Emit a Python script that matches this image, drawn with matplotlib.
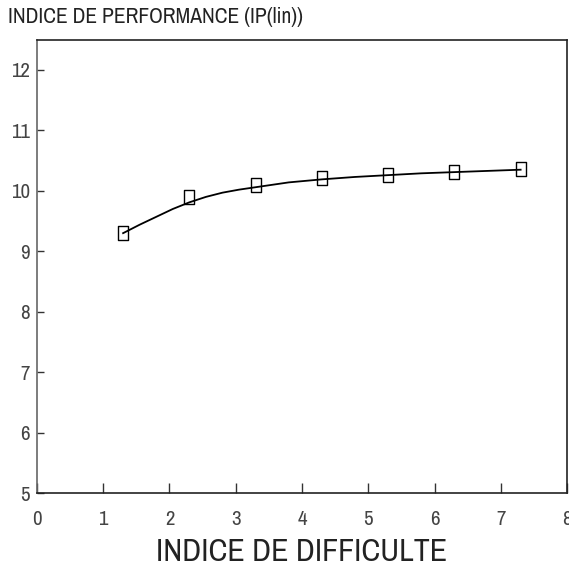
import numpy as np
import matplotlib
matplotlib.use("Agg")
import matplotlib.pyplot as plt
from matplotlib.path import Path

# measured points
difficulte = [1.3, 2.3, 3.3, 4.3, 5.3, 6.3, 7.3]
performance = [9.30, 9.89, 10.09, 10.21, 10.27, 10.32, 10.36]

# fitted curve
curve_x = [1.3, 1.55, 1.8, 2.05, 2.3, 2.55, 2.8, 3.05, 3.3, 3.8, 4.3, 4.8, 5.3, 5.8, 6.3, 6.8, 7.3]
curve_y = [9.30, 9.44, 9.57, 9.70, 9.81, 9.90, 9.97, 10.02, 10.06, 10.14, 10.19, 10.23, 10.26,
           10.29, 10.31, 10.33, 10.35]

xticks = [0, 1, 2, 3, 4, 5, 6, 7, 8]
yticks = [5, 6, 7, 8, 9, 10, 11, 12]

plt.rcParams['font.family'] = ['Archivo Narrow', 'DejaVu Sans']

fig = plt.figure(figsize=(5.69, 5.68), dpi=100)
ax = fig.add_axes([0.065, 0.132, 0.9315, 0.798])

# tall open rectangle marker
rect = Path([(-0.67, -1), (0.67, -1), (0.67, 1), (-0.67, 1), (-0.67, -1)],
            [Path.MOVETO, Path.LINETO, Path.LINETO, Path.LINETO, Path.CLOSEPOLY])

ax.plot(curve_x, curve_y, color='black', lw=1.3)
ax.plot(difficulte, performance, ls='none', marker=rect, ms=10,
        mfc='none', mec='black', mew=1.0)

ax.set_xlim(0, 8)
ax.set_ylim(5, 12.5)
ax.set_xticks(xticks)
ax.set_yticks(yticks)
ax.tick_params(direction='in', labelsize=15, width=1.0, colors='#333333')
ax.tick_params(axis='x', length=7, pad=12, labelcolor='#444444')
ax.tick_params(axis='y', length=5, pad=5, labelcolor='#444444')
ax.spines['left'].set_color('#666666')
for s in ['bottom', 'top', 'right']:
    ax.spines[s].set_color('#222222')
for s in ax.spines.values():
    s.set_linewidth(1.2)

ax.set_xlabel("INDICE DE DIFFICULTE", fontsize=23, labelpad=7, color='#222222')
fig.text(0.014, 0.97, "INDICE DE PERFORMANCE (IP(lin))", fontsize=15.5,
         ha='left', va='center', color='#222222')

fig.savefig("out.png", dpi=100)
